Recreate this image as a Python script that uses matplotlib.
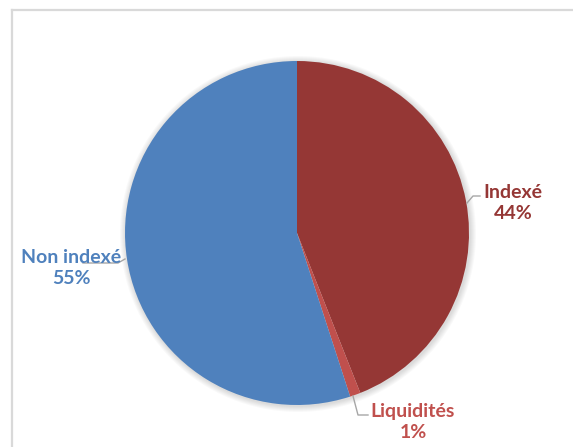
import matplotlib.pyplot as plt
from matplotlib.patches import Circle

# Data
labels = ['Indexé', 'Liquidités', 'Non indexé']
shares = [44, 1, 55]
colors = ['#953735', '#C0504D', '#4F81BD']

W, H = 573, 447
fig = plt.figure(figsize=(W / 100, H / 100), dpi=100)
ax = fig.add_axes([0, 0, 1, 1])

cx, cy, r = 297, H - 233, 172

# soft shadow around the pie
for i in range(6):
    ax.add_patch(Circle((cx + 1, cy - 1), r + 1 + i, color='black', alpha=0.025, lw=0, zorder=0))

ax.pie(shares, colors=colors, startangle=90, counterclock=False,
       center=(cx, cy), radius=r, frame=True,
       wedgeprops=dict(linewidth=0))
ax.set_xlim(0, W)
ax.set_ylim(0, H)
ax.axis('off')

# chart frame (cut off at right and bottom)
ax.plot([12, 12], [-5, H - 10], color='#D9D9D9', lw=1.6, clip_on=False)
ax.plot([12, W + 5], [H - 10, H - 10], color='#D9D9D9', lw=1.6, clip_on=False)

# data labels with leader lines
label_pos = [(513, 203), (413, 422), (71, 268)]
leaders = [
    [(467, 203), (473, 196), (480, 196)],
    [(353, 396), (358, 415), (368, 415)],
    [(83, 263), (118, 263), (125, 259)],
]
for lab, val, col, (tx, ty), pts in zip(labels, shares, colors, label_pos, leaders):
    ax.text(tx, H - ty, f'{lab}\n{val}%', color=col, fontsize=14, fontweight='bold',
            family=['Lato', 'DejaVu Sans'], ha='center', va='center', linespacing=1.25,
            zorder=3)
    xs = [p[0] for p in pts]
    ys = [H - p[1] for p in pts]
    ax.plot(xs, ys, color='#A6A6A6', lw=1, zorder=2)

fig.savefig('out.png', dpi=100)
